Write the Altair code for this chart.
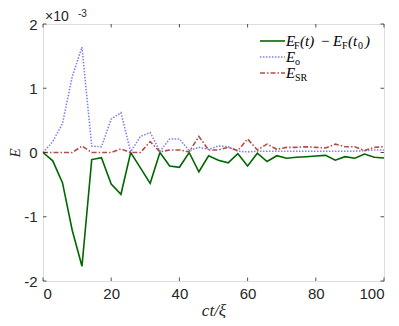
import altair as alt
import pandas as pd

# ---- data (E in units of 1e-3) ----
ct = [0, 2.86, 5.71, 8.57, 11.43, 14.29, 17.14, 20.0, 22.86, 25.71, 28.57, 31.43,
      34.29, 37.14, 40.0, 42.86, 45.71, 48.57, 51.43, 54.29, 57.14, 60.0, 62.86, 65.71,
      68.57, 71.43, 74.29, 77.14, 80.0, 82.86, 85.71, 88.57, 91.43, 94.29, 97.14, 100.0]
e_f = [0, -0.13, -0.47, -1.21, -1.77, -0.11, -0.08, -0.49, -0.65, 0, -0.24, -0.48,
       0, -0.21, -0.23, 0, -0.30, -0.05, -0.12, -0.16, -0.02, -0.21, -0.01, -0.14,
       -0.05, -0.09, -0.075, -0.065, -0.055, -0.045, -0.12, -0.065, -0.09, -0.025, -0.075, -0.085]
e_o = [0, 0.17, 0.45, 1.18, 1.64, 0.10, 0.09, 0.52, 0.62, 0.01, 0.25, 0.31,
       0.02, 0.21, 0.21, 0.03, 0.08, 0.05, 0.10, 0.09, 0.02, 0.01, 0.02, 0.02,
       0.02, 0.02, 0.02, 0.02, 0.02, 0.02, 0.02, 0.02, 0.02, 0.03, 0.04, 0.04]
e_sr = [0, 0, 0, 0, 0.10, 0, 0, 0, 0.055, 0, 0, 0.17,
        0.01, 0.04, 0.04, 0.01, 0.25, 0.04, 0.04, 0.08, 0.03, 0.21, 0.04, 0.13,
        0.05, 0.08, 0.08, 0.09, 0.08, 0.07, 0.13, 0.09, 0.09, 0.03, 0.08, 0.09]
x_ticks = [0, 20, 40, 60, 80, 100]
y_ticks = [-2, -1, 0, 1, 2]

W, H = 341, 257
AX = '#262626'
SANS = 'Liberation Sans'
SERIF = 'Liberation Serif'
GREEN, BLUE, RED = '#006600', '#8080FF', '#B34D4D'

xs = alt.Scale(domain=[0, 100], nice=False)
ys = alt.Scale(domain=[-2, 2], nice=False)

X_AXIS = alt.Axis(
    values=x_ticks, ticks=False, domain=False, grid=False,
    labelFont=SANS, labelFontSize=15, labelColor=AX, labelPadding=5,
    title='ct/ξ', titleFont=SERIF, titleFontStyle='italic', titleFontWeight='normal',
    titleFontSize=17, titleColor=AX, titleBaseline='alphabetic', titleY=34)
Y_AXIS = alt.Axis(
    values=y_ticks, ticks=False, domain=False, grid=False,
    labelFont=SANS, labelFontSize=15, labelColor=AX, labelPadding=6,
    labelExpr="datum.value < 0 ? '-' + abs(datum.value) : '' + datum.value",
    title='E', titleFont=SERIF, titleFontStyle='italic', titleFontWeight='normal',
    titleFontSize=15, titleColor=AX, titleX=-21, titleY=H / 2)

def X():
    return alt.X('ct:Q', scale=xs, axis=X_AXIS)

def Y():
    return alt.Y('E:Q', scale=ys, axis=Y_AXIS)

def series(vals, color, dash=None):
    df = pd.DataFrame({'ct': ct, 'E': vals})
    kw = {} if dash is None else {'strokeDash': dash}
    return alt.Chart(df).mark_line(color=color, strokeWidth=1.6, **kw).encode(x=X(), y=Y())

layers = [
    series(e_f, GREEN),
    series(e_o, BLUE, [1.5, 1.5]),
    series(e_sr, RED, [5, 2, 1.5, 2]),
]

# inward ticks
tx = pd.DataFrame({'ct': x_ticks})
ty = pd.DataFrame({'E': y_ticks})
TL = 3.5
for y0, y1 in [(H, H - TL), (0, TL)]:
    layers.append(alt.Chart(tx).mark_rule(color=AX, strokeWidth=0.8).encode(
        x=X(), y=alt.value(y0), y2=alt.value(y1)))
for x0, x1 in [(0, TL), (W, W - TL)]:
    layers.append(alt.Chart(ty).mark_rule(color=AX, strokeWidth=0.8).encode(
        y=Y(), x=alt.value(x0), x2=alt.value(x1)))

one = pd.DataFrame({'a': [0]})

def txt(s, x, y, size=15, style='normal', font=SERIF, color='black'):
    return alt.Chart(one).mark_text(align='left', baseline='alphabetic', font=font,
                                    fontSize=size, fontStyle=style, color=color).encode(
        x=alt.value(x), y=alt.value(y), text=alt.value(s))

def sample(y, color, dash=None):
    kw = {} if dash is None else {'strokeDash': dash}
    return alt.Chart(one).mark_rule(color=color, strokeWidth=1.6, **kw).encode(
        x=alt.value(217), x2=alt.value(242), y=alt.value(y))

# exponent label
layers += [txt('×10', 2, -3, size=14, font=SANS, color=AX),
           txt('-3', 35, -7, size=10, font=SANS, color=AX)]

# legend
r1, r2, r3 = 17, 33, 49
layers += [sample(r1, GREEN), sample(r2, BLUE, [1.5, 1.5]), sample(r3, RED, [5, 2, 1.5, 2])]
b1, b2, b3 = r1 + 5, r2 + 5, r3 + 5
layers += [
    txt('E', 243, b1, style='italic'), txt('F', 251, b1 + 3, size=10),
    txt('(t)', 257, b1, style='italic'), txt('−', 278, b1),
    txt('E', 290, b1, style='italic'), txt('F', 299, b1 + 3, size=10),
    txt('(t', 305, b1, style='italic'), txt('0', 315, b1 + 3, size=10),
    txt(')', 322, b1, style='italic'),
    txt('E', 243, b2, style='italic'), txt('o', 252, b2 + 3, size=10),
    txt('E', 243, b3, style='italic'), txt('SR', 252, b3 + 3, size=10),
]

chart = alt.layer(*layers).properties(
    width=W, height=H,
    autosize=alt.AutoSizeParams(type='none'),
    padding={'left': 35, 'top': 16, 'right': 7, 'bottom': 37},
).configure_view(stroke=AX, strokeWidth=1).configure(background='white')

chart.save('out.html', embed_options={'renderer': 'svg', 'actions': False})
